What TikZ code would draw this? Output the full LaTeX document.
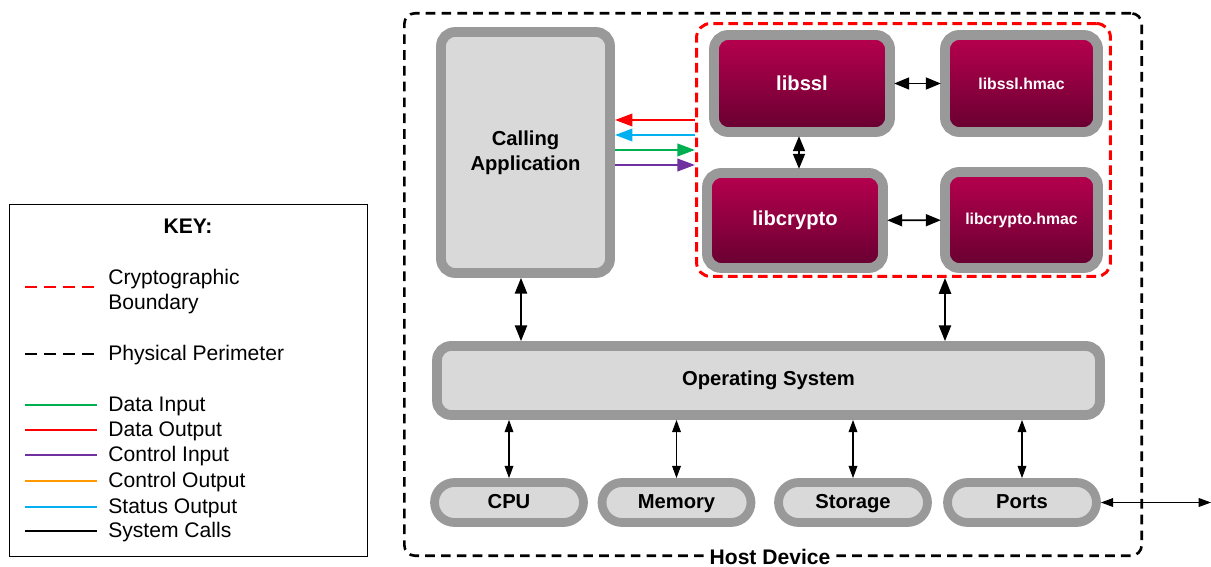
\documentclass[tikz,border=0pt]{standalone}
\usepackage{fontspec}
\setmainfont{Liberation Sans}
\usetikzlibrary{arrows.meta}

\definecolor{boxgrey}{HTML}{999999}
\definecolor{boxfill}{HTML}{D9D9D9}
\definecolor{libtop}{HTML}{B8004F}
\definecolor{libbot}{HTML}{660030}
\definecolor{datain}{HTML}{00B050}
\definecolor{ctrlin}{HTML}{7030A0}
\definecolor{ctrlout}{HTML}{FF9900}
\definecolor{statout}{HTML}{00B0F0}

\begin{document}
\begin{tikzpicture}[x=0.02cm, y=-0.02cm,
    greybox/.style={draw=boxgrey, fill=boxfill, line width=5.6pt, rounded corners=8pt,
      inner sep=0pt, align=center, font=\bfseries\fontsize{11.5}{14}\selectfont},
    libbox/.style={greybox, top color=libtop, bottom color=libbot, text=white},
    hmacbox/.style={libbox, font=\bfseries\fontsize{9}{11}\selectfont},
    pill/.style={greybox, line width=5pt, rounded corners=0.4cm, minimum width=2.98cm, minimum height=0.8cm,
      text height=0.8em, text depth=0.08em},
    flow/.style={line width=1.5pt, -{Triangle[length=10pt,width=7pt]}},
    bigcall/.style={black, line width=0.9pt, {Triangle[length=9pt,width=7pt]}-{Triangle[length=9pt,width=7pt]}},
    libcall/.style={black, line width=0.6pt, {Triangle[length=8pt,width=6.5pt]}-{Triangle[length=8pt,width=6.5pt]}},
    syscall/.style={black, line width=0.6pt, {Triangle[length=7pt,width=5pt]}-{Triangle[length=7pt,width=5pt]}},
    keytext/.style={anchor=west, align=left, inner sep=0pt, font=\fontsize{12}{14.2}\selectfont}]
  \useasboundingbox (0,0) rectangle (1211,567);

  % key
  \node[draw, line width=0.7pt, minimum width=7.16cm, minimum height=7.04cm] (key) at (188.5,380.5) {};
  \node[font=\bfseries\fontsize{12}{14}\selectfont] (keyhead) at (188,226) {KEY:};
  \draw[red, line width=1.6pt, dash pattern=on 6.8pt off 4pt] (25,287) -- (97,287);
  \node[keytext] (kcb) at (108,291.5) {Cryptographic\\Boundary};
  \draw[black, line width=1.6pt, dash pattern=on 6.8pt off 4pt] (25,354) -- (97,354);
  \node[keytext] (kpp) at (108,355) {Physical Perimeter};
  \foreach \y/\c/\t in {405/datain/Data Input, 430/red/Data Output, 455/ctrlin/Control Input,
      481/ctrlout/Control Output, 507/statout/Status Output, 531/black/System Calls} {
    \draw[\c, line width=1.5pt] (25,\y) -- (97,\y);
    \node[keytext] (k\y) at (108,\y+1) {\t};
  }

  % perimeter and boundary
  \node[draw, line width=1.5pt, dash pattern=on 5.5pt off 3.5pt, rounded corners=6pt,
    minimum width=14.75cm, minimum height=10.85cm] (host) at (773,284.5) {};
  \node[fill=white, inner sep=2pt, font=\bfseries\fontsize{12}{14}\selectfont] (hostlbl) at (770,557) {Host Device};
  \node[draw=red, line width=1.7pt, dash pattern=on 5.5pt off 3pt, rounded corners=8pt,
    minimum width=8.28cm, minimum height=5.06cm] (bnd) at (903.5,150) {};

  % modules
  \node[greybox, minimum width=3.38cm, minimum height=4.82cm] (app) at (525.5,152.5) {Calling\\Application};
  \node[libbox, minimum width=3.52cm, minimum height=1.94cm] (ssl) at (802,83.5) {libssl};
  \node[hmacbox, minimum width=3.06cm, minimum height=1.94cm] (sslh) at (1021.5,83.5) {libssl.hmac};
  \node[libbox, minimum width=3.52cm, minimum height=1.9cm] (cry) at (795,220.5) {libcrypto};
  \node[hmacbox, minimum width=3.06cm, minimum height=1.92cm] (cryh) at (1021.5,220) {libcrypto.hmac};
  \node[greybox, minimum width=13.26cm, minimum height=1.38cm] (os) at (768.5,380.5) {Operating System};
  \node[pill] (cpu) at (509,502.5) {CPU};
  \node[pill] (mem) at (676.5,502.5) {Memory};
  \node[pill] (sto) at (853,502.5) {Storage};
  \node[pill] (prt) at (1022,502.5) {Ports};
  \coordinate (ext) at (1211,502.5);

  % flows
  \draw[flow, red] (bnd.west |- 0,120) -- (app.east |- 0,120);
  \draw[flow, statout] (bnd.west |- 0,135) -- (app.east |- 0,135);
  \draw[flow, datain] (app.east |- 0,150) -- (bnd.west |- 0,150);
  \draw[flow, ctrlin] (app.east |- 0,165) -- (bnd.west |- 0,165);

  \path
    (ssl) [libcall] edge (sslh)
    (cry) [libcall] edge (cryh)
    (ssl.south -| 799,0) [libcall] edge (cry.north -| 799,0)
    (app.south -| 521,0) [bigcall] edge (os.north -| 521,0)
    (bnd.south -| 945,0) [bigcall] edge (os.north -| 945,0);
  \foreach \n in {cpu,mem,sto,prt}
    \draw[syscall] (\n.north) -- (\n.north |- os.south);
  \draw[syscall] (prt.east) -- (ext);
\end{tikzpicture}
\end{document}
